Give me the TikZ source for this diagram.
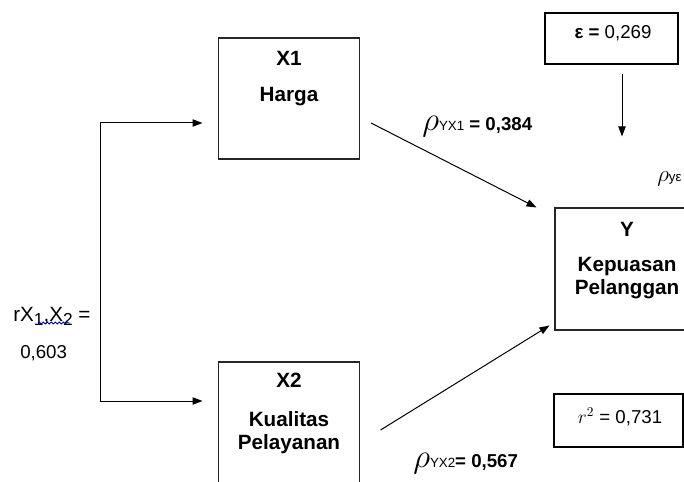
\documentclass[tikz,border=0pt]{standalone}
\usepackage{fontspec}
\setmainfont{Liberation Sans}
\usetikzlibrary{positioning,calc,arrows.meta,decorations.pathmorphing}

\begin{document}
\begin{tikzpicture}[x=0.75pt,y=-0.75pt,>={Triangle[length=7.5pt,width=5.5pt]},
  box/.style={draw=black!85,line width=0.8pt,minimum width=105.75pt,minimum height=90.75pt,inner sep=0pt},
  boxtext/.style={font=\bfseries\fontsize{15.5}{17.25}\selectfont,align=center,inner sep=0pt,anchor=base},
  valbox/.style={draw,line width=2.2pt,inner sep=0pt},
  arr/.style={->,line width=0.75pt},
  lbl/.style={font=\fontsize{14}{16}\selectfont,inner sep=0pt,anchor=base west}]
\useasboundingbox (0,0) rectangle (684,481);
\clip (0,0) rectangle (684,481);

% boxes
\node[box] (x1) at (289,98.5) {};
\node[box] (x2) at (289,422.5) {};
\node[box,minimum width=108pt,minimum height=91.5pt] (y) at (627,269) {};
\node[valbox,minimum width=99.75pt,minimum height=38.25pt] (eps) at (611.5,38.5) {};
\node[valbox,minimum width=96.75pt,minimum height=39.75pt] (rsq) at (618.5,420.5) {};

% base of a multi-line node = its last line
\node[boxtext] (x1t) at ($(x1.north)+(0,63.7)$) {X1\\[9.75pt]Harga};
\node[boxtext] (x2t) at ($(x2.north)+(0,88)$) {X2\\[12pt]Kualitas\\Pelayanan};
\node[boxtext] (yt) at ($(y.north)+(0,87)$) {Y\\[9pt]Kepuasan\\Pelanggan};

\node[lbl,anchor=base] (epst) at ($(eps.center)+(1.5,0)$) {\textbf{ε =} 0,269};
\node[lbl,anchor=base] (rsqt) at ($(rsq.center)+(1.5,2.5)$) {$r^2$ = 0,731};

% correlation
\coordinate (kv1) at (100,123);
\coordinate (kv2) at (100,401);
\draw[<->,line width=0.75pt,shorten <=11.6pt,shorten >=11.6pt] (kv1 -| x1.west) -- (kv1) -- (kv2) -- (kv2 -| x2.west);
\node[lbl,font=\fontsize{15.5}{17}\selectfont] (rx) at (13,321) {rX\raisebox{-3.5pt}{\fontsize{13}{13}\selectfont 1},X\raisebox{-3.5pt}{\fontsize{13}{13}\selectfont 2} =};
\node[lbl] (rxv) at (20,358) {0,603};
\draw[blue!75!black,line width=0.6pt,decorate,decoration={snake,amplitude=0.8pt,segment length=3pt}] (38,323) -- (70,323);

% paths
\draw[arr] ($(x1.east)+(11,24.5)$) -- ($(y.north west)+(-18,0)$);
\draw[arr] ($(x2.east)+(20.5,7.5)$) -- ($(y.south west)+(-5,-5)$);
\draw[arr] ($(eps.south)+(10.5,9)$) -- ($(eps.south)+(10.5,71)$);

\node[lbl] (pyx1) at (422,131) {{\fontsize{26}{26}\selectfont$\rho$}{\fontsize{10}{10}\selectfont YX1} \textbf{= 0,384}};
\node[lbl] (pyx2) at (413,467) {{\fontsize{26}{26}\selectfont$\rho$}{\fontsize{10}{10}\selectfont YX2}\textbf{= 0,567}};
\node[lbl] (pye) at (657,181) {{\fontsize{17}{17}\selectfont$\rho$}{\fontsize{10}{10}\selectfont yε}};
\end{tikzpicture}
\end{document}
